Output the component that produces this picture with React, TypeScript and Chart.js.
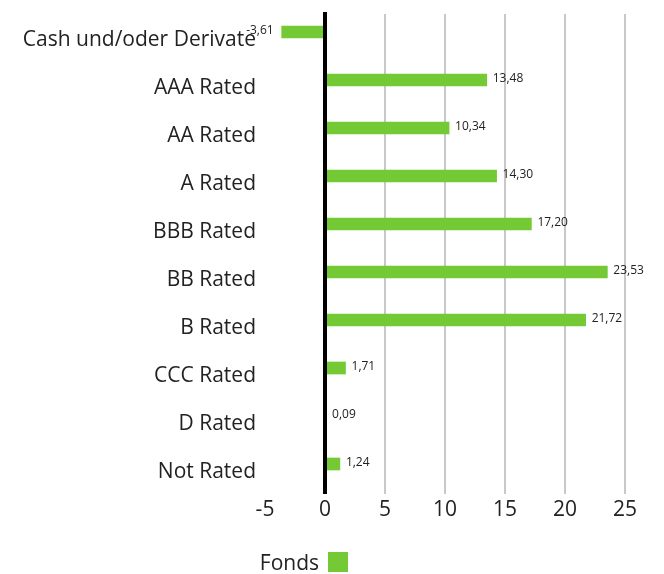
import React, { useEffect, useRef } from "react";
import { Chart, registerables } from "chart.js";

Chart.register(...registerables);

const categories = [
  "Cash und/oder Derivate",
  "AAA Rated",
  "AA Rated",
  "A Rated",
  "BBB Rated",
  "BB Rated",
  "B Rated",
  "CCC Rated",
  "D Rated",
  "Not Rated",
];
const fondsValues = [-3.61, 13.48, 10.34, 14.3, 17.2, 23.53, 21.72, 1.71, 0.09, 1.24];
const seriesName = "Fonds";
const xMin = -5;
const xMax = 25;

const GREEN = "#75c934";
const FONT = "'Open Sans'";

const fmt = (v: number) => v.toFixed(2).replace(".", ",");

const zeroLinePlugin = {
  id: "zeroLine",
  afterDatasetsDraw(chart: any) {
    const ctx = chart.ctx;
    const x = chart.scales.x.getPixelForValue(0);
    ctx.save();
    ctx.strokeStyle = "#000";
    ctx.lineWidth = 4;
    ctx.beginPath();
    ctx.moveTo(x, chart.chartArea.top - 2);
    ctx.lineTo(x, chart.chartArea.bottom);
    ctx.stroke();
    ctx.restore();
  },
};

const labelPlugin = {
  id: "barLabels",
  afterDatasetsDraw(chart: any) {
    const ctx = chart.ctx;
    const meta = chart.getDatasetMeta(0);
    ctx.save();
    ctx.font = `12px ${FONT}`;
    ctx.fillStyle = "#222";
    ctx.textBaseline = "middle";
    meta.data.forEach((bar: any, i: number) => {
      const v = fondsValues[i];
      const y = bar.y - 1;
      if (v < 0) {
        ctx.textAlign = "right";
        ctx.fillText(fmt(v), bar.x - 8, y);
      } else {
        ctx.textAlign = "left";
        ctx.fillText(fmt(v), bar.x + 6, y);
      }
    });
    ctx.restore();
  },
};

const categoryLabelPlugin = {
  id: "categoryLabels",
  afterDraw(chart: any) {
    const ctx = chart.ctx;
    const yScale = chart.scales.y;
    ctx.save();
    ctx.font = `21px ${FONT}`;
    ctx.fillStyle = "#222";
    ctx.textAlign = "right";
    ctx.textBaseline = "middle";
    categories.forEach((c, i) => {
      ctx.fillText(c, chart.chartArea.left - 9, yScale.getPixelForValue(i) + 2);
    });
    ctx.restore();
  },
};

const legendPlugin = {
  id: "customLegend",
  afterDraw(chart: any) {
    const ctx = chart.ctx;
    ctx.save();
    ctx.fillStyle = GREEN;
    ctx.fillRect(328, 552, 20, 20);
    ctx.fillStyle = "#222";
    ctx.font = `21px ${FONT}`;
    ctx.textAlign = "right";
    ctx.textBaseline = "middle";
    ctx.fillText(seriesName, 319, 564);
    ctx.restore();
  },
};

export default function App() {
  const ref = useRef<HTMLCanvasElement | null>(null);
  useEffect(() => {
    if (!ref.current) return;
    const chart = new Chart(ref.current, {
      type: "bar",
      data: {
        labels: categories,
        datasets: [
          {
            label: seriesName,
            data: fondsValues,
            backgroundColor: GREEN,
            barThickness: 12,
          },
          {
            label: "_spacer",
            data: categories.map(() => null),
            backgroundColor: "transparent",
            barThickness: 12,
          },
        ],
      },
      options: {
        indexAxis: "y",
        animation: false,
        responsive: true,
        maintainAspectRatio: false,
        layout: { padding: { top: 14, right: 39, bottom: 40, left: 0 } },
        plugins: {
          legend: { display: false },
          tooltip: { enabled: false },
        },
        scales: {
          x: {
            min: xMin,
            max: xMax,
            ticks: {
              stepSize: 5,
              color: "#222",
              font: { family: FONT, size: 21 },
              padding: 3,
            },
            border: { display: false },
            grid: {
              drawTicks: false,
              color: (c: any) =>
                c.tick && (c.tick.value === xMin || c.tick.value === 0)
                  ? "rgba(0,0,0,0)"
                  : "#c8c8c8",
              lineWidth: 2,
            },
            afterFit: (s: any) => {
              s.height = 40;
              s.paddingLeft = 0;
              s.paddingRight = 0;
              s.paddingTop = 0;
              s.paddingBottom = 0;
            },
          },
          y: {
            ticks: { display: false },
            border: { display: false },
            grid: { display: false, drawTicks: false },
            afterFit: (s: any) => {
              s.width = 265;
              s.paddingLeft = 0;
              s.paddingRight = 0;
              s.paddingTop = 0;
              s.paddingBottom = 0;
            },
          },
        },
      },
      plugins: [zeroLinePlugin, labelPlugin, categoryLabelPlugin, legendPlugin],
    });
    return () => chart.destroy();
  }, []);
  return (
    <div style={{ position: "fixed", left: 0, top: 0, width: 664, height: 574 }}>
      <canvas ref={ref} />
    </div>
  );
}
